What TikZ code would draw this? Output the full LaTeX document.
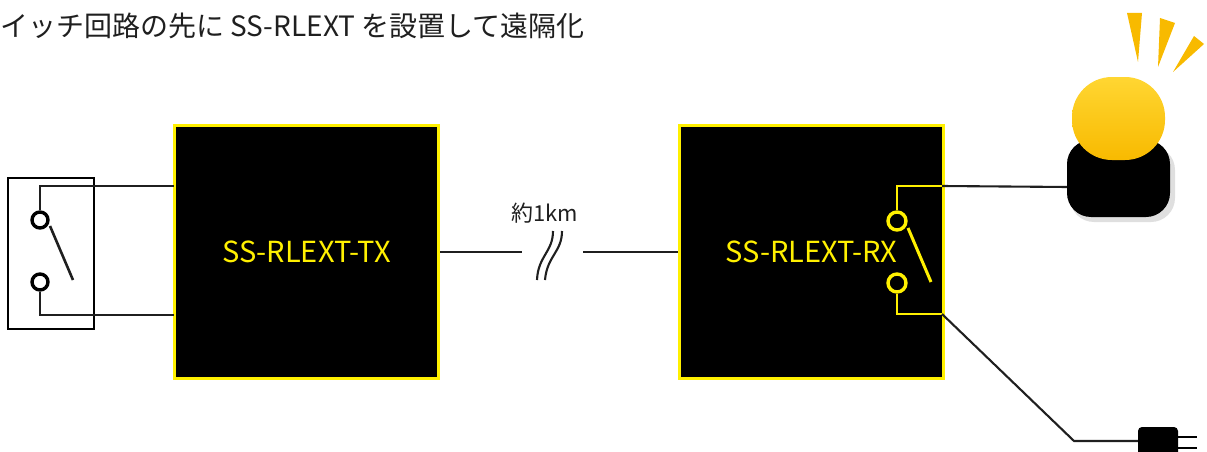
\documentclass[tikz,border=0pt]{standalone}
\usepackage{fontspec}
\newfontfamily\jpfont{Noto Sans CJK JP}
\definecolor{ledyellow}{RGB}{255,240,0}
\definecolor{lampamber}{RGB}{248,186,0}
\definecolor{lamplight}{RGB}{255,214,50}
\begin{document}
\begin{tikzpicture}[x=1pt,y=-1pt,
unit/.style={rectangle, draw=ledyellow, fill=black, line width=3pt, minimum width=264pt, minimum height=253pt, text=ledyellow, font=\jpfont\fontsize{29}{32}\selectfont},
contact/.style={circle, draw=black, line width=3.4pt, minimum size=16pt, inner sep=0pt},
rxcontact/.style={contact, draw=ledyellow, minimum size=18pt},
wire/.style={line width=2.1pt, black!88},
rxwire/.style={line width=2.6pt, ledyellow},
ray/.style={fill=lampamber, draw=none}
]
\useasboundingbox (0,0) rectangle (1207,452);

% title
\node[anchor=west, text=black!88, font=\jpfont\fontsize{28}{32}\selectfont, inner sep=0pt] (title) at (0,26) {イッチ回路の先に SS-RLEXT を設置して遠隔化};

% the two units
\node[unit] (tx) at (306.5,252) {SS-RLEXT-TX};
\node[unit] (rx) at (811.5,252) {SS-RLEXT-RX};

% switch at the sending side
\draw[line width=2pt] (8,178) rectangle (94,329);
\node[contact] (swA) at (40,220) {};
\node[contact] (swB) at (40,282) {};
\coordinate (tx-in1) at (174,186);
\coordinate (tx-in2) at (174,315);
\draw[wire] (swA.north) |- (tx-in1);
\draw[wire] (swB.south) |- (tx-in2);
\draw[wire, line width=2.6pt] (50,226) -- (73,280);

% long line with break
\coordinate (brk-l) at (522,252);
\coordinate (brk-r) at (583,252);
\draw[wire] (tx.east) -- (brk-l);
\draw[wire] (brk-r) -- (rx.west);
\draw[wire] (553,231) .. controls (553,252) and (538,256) .. (537,280);
\draw[wire] (562,231) .. controls (562,252) and (547,256) .. (545,280);
\node[font=\jpfont\fontsize{22}{24}\selectfont, text=black!88] (dist) at (545,213) {約1km};

% relay contact inside the receiver
\node[rxcontact] (rlA) at (897,221) {};
\node[rxcontact] (rlB) at (897,283) {};
\coordinate (rx-out1) at (942,186);
\coordinate (rx-out2) at (942,314);
\draw[rxwire] (rlA.north) |- (rx-out1);
\draw[rxwire] (rlB.south) |- (rx-out2);
\draw[rxwire, line width=3pt] (908,228) -- (931,282);

% lamp
\coordinate (lamp) at (1068,187);
\coordinate (plug) at (1139,441);
\draw[wire] (rx-out1) -- (lamp);
\draw[wire] (rx-out2) -- (1074,441) -- (plug);
\fill[black!25, opacity=0.5, rounded corners=24pt] (1070,146) rectangle (1175,222);
\fill[black, rounded corners=24pt] (1067,140) rectangle (1170,217);
\shade[top color=lamplight, bottom color=lampamber, rounded corners=40pt] (1072,77) rectangle (1165,160);
\fill[ray] (1127,13) -- (1142,13) -- (1138,62) -- cycle;
\fill[ray] (1160,18) -- (1175,23) -- (1158,67) -- cycle;
\fill[ray] (1194,36) -- (1204,44) -- (1173,72) -- cycle;

% plug
\fill[black, rounded corners=4pt] (1138,427) rectangle (1178,460);
\draw[line width=2.4pt] (1178,437) -- (1197,437);
\draw[line width=2.4pt] (1178,448) -- (1197,448);
\end{tikzpicture}
\end{document}
